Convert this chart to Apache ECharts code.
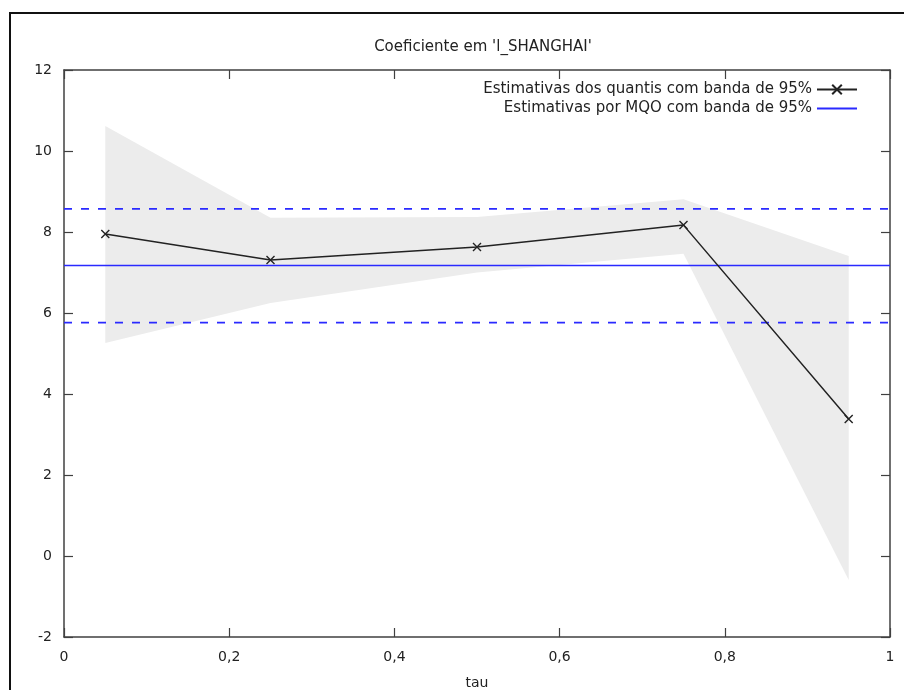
<!DOCTYPE html>
<html>
<head>
<meta charset="utf-8">
<script src="https://cdn.jsdelivr.net/npm/echarts@6/dist/echarts.min.js"></script>
<style>
  html, body { margin: 0; padding: 0; background: #fff; }
  #chart { width: 904px; height: 690px; }
</style>
</head>
<body>
<div id="chart"></div>
<script>
const TAU = [0.05, 0.25, 0.5, 0.75, 0.95];
const QUANT = [7.95, 7.31, 7.63, 8.17, 3.38];
const QUANT_UPPER = [10.62, 8.35, 8.37, 8.81, 7.41];
const QUANT_LOWER = [5.26, 6.25, 7.0, 7.46, -0.59];
const MQO = 7.17;
const MQO_UPPER = 8.57;
const MQO_LOWER = 5.76;
const X_RANGE = [0, 1];

const NAME_Q = "Estimativas dos quantis com banda de 95%";
const NAME_M = "Estimativas por MQO com banda de 95%";
const FONT = "DejaVu Sans";
const AXIS_COLOR = "#404040";
const BLUE = "#2a2aff";

const chart = echarts.init(document.getElementById("chart"), null, { renderer: "canvas" });

const hline = (v) => X_RANGE.map((x) => [x, v]);
const commaFmt = (v) => String(v).replace(".", ",");

const axisCommon = {
  axisLine: { show: true, onZero: false, lineStyle: { color: AXIS_COLOR, width: 1.5 } },
  axisTick: { show: true, inside: true, length: 9, lineStyle: { color: AXIS_COLOR, width: 1.2 } },
  splitLine: { show: false },
};

chart.setOption({
  animation: false,
  backgroundColor: "#fff",
  title: {
    text: "Coeficiente em 'l_SHANGHAI'",
    left: 478,
    top: 35,
    textAlign: "center",
    textStyle: { fontFamily: FONT, fontSize: 15, fontWeight: "normal", color: "#222" },
  },
  graphic: [
    {
      type: "rect",
      shape: { x: 10, y: 13, width: 1000, height: 1000 },
      style: { fill: "none", stroke: "#111", lineWidth: 2 },
      silent: true,
    },
  ],
  legend: {
    data: [NAME_Q, { name: NAME_M, itemStyle: { opacity: 0 } }],
    orient: "vertical",
    right: 41,
    top: 77,
    align: "right",
    itemWidth: 40,
    itemHeight: 12,
    itemGap: 4,
    textStyle: { fontFamily: FONT, fontSize: 15, color: "#222" },
  },
  grid: { left: 64, right: 14, top: 70, bottom: 53, containLabel: false, outerBoundsMode: "none" },
  xAxis: [
    {
      ...axisCommon,
      type: "value",
      min: 0,
      max: 1,
      interval: 0.2,
      name: "tau",
      nameLocation: "middle",
      nameGap: 39,
      nameTextStyle: { fontFamily: FONT, fontSize: 14, color: "#222" },
      axisLabel: { fontFamily: FONT, fontSize: 14, color: "#222", margin: 13, formatter: commaFmt },
    },
    {
      ...axisCommon,
      type: "value",
      position: "top",
      min: 0,
      max: 1,
      interval: 0.2,
      axisLabel: { show: false },
    },
  ],
  yAxis: [
    {
      ...axisCommon,
      type: "value",
      min: -2,
      max: 12,
      interval: 2,
      axisLabel: { fontFamily: FONT, fontSize: 14, color: "#222", margin: 12 },
    },
    {
      ...axisCommon,
      type: "value",
      position: "right",
      min: -2,
      max: 12,
      interval: 2,
      axisLabel: { show: false },
    },
  ],
  series: [
    {
      type: "custom",
      name: "band",
      silent: true,
      z: 1,
      data: [0],
      renderItem: (params, api) => {
        const pts = TAU.map((t, i) => api.coord([t, QUANT_UPPER[i]]))
          .concat(TAU.map((t, i) => api.coord([t, QUANT_LOWER[i]])).reverse());
        return { type: "polygon", shape: { points: pts }, style: { fill: "#ececec" } };
      },
    },
    {
      type: "line",
      name: NAME_M,
      data: hline(MQO),
      symbol: "none",
      z: 3,
      lineStyle: { color: BLUE, width: 1.5 },
      itemStyle: { color: BLUE },
    },
    {
      type: "line",
      name: "mqo_up",
      data: hline(MQO_UPPER),
      symbol: "none",
      z: 3,
      lineStyle: { color: BLUE, width: 1.8, type: [8, 9] },
    },
    {
      type: "line",
      name: "mqo_low",
      data: hline(MQO_LOWER),
      symbol: "none",
      z: 3,
      lineStyle: { color: BLUE, width: 1.8, type: [8, 9] },
    },
    {
      type: "line",
      name: NAME_Q,
      data: TAU.map((t, i) => [t, QUANT[i]]),
      symbol: "path://M0,0L10,10M10,0L0,10",
      symbolSize: 8,
      z: 4,
      lineStyle: { color: "#222", width: 1.5 },
      itemStyle: { color: "none", borderColor: "#222", borderWidth: 1.4 },
    },
  ],
});
</script>
</body>
</html>
